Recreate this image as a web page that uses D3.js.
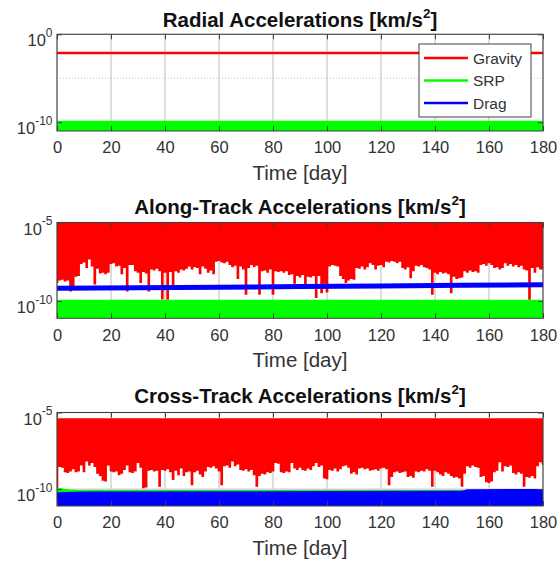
<!DOCTYPE html>
<html><head><meta charset="utf-8">
<script src="https://cdn.jsdelivr.net/npm/d3@7"></script>
<style>
body{margin:0;background:#fff;}
svg{display:block;font-family:"Liberation Sans",Arial,Helvetica,sans-serif;}
</style>
</head><body>
<svg id="chart" width="558" height="563"></svg>
<script>
// ---------------- DATA ----------------
const xTicks = [0, 20, 40, 60, 80, 100, 120, 140, 160, 180];
const seriesNames = ["Gravity", "SRP", "Drag"];
const seriesColors = ["#ff0000", "#00ff00", "#0000ff"];
const titles = ["Radial Accelerations [km/s", "Along-Track Accelerations [km/s", "Cross-Track Accelerations [km/s"];
const xLabel = "Time [day]";
const yTickExps = [[0, -10], [-5, -10], [-5, -10]];
const yDomainExps = [[-11, 0], [-11.1, -5], [-11.1, -5]];
const minorGridExps = [[-5], [], []];

const days = d3.range(0, 181);

// Radial (log10 of km/s^2)
const radialGravityLog = -2.13;
const radialSrpMaxLog = -9.82;
const radialSrpMinLog = -12;

// Along-track (log10 of km/s^2), daily lower envelope of the gravity oscillation
const alongGravityMaxLog = -5.0;
const alongGravityMinLog = [
-8.85,-8.7,-8.65,-8.75,-8.7,-9.39,-9.3,-8.45,-8.4,-7.65,
-7.55,-7.9,-7.35,-7.8,-8.95,-7.95,-8.25,-8.2,-8.3,-8.2,
-7.65,-7.6,-7.8,-7.75,-8.3,-7.9,-9.4,-7.7,-7.7,-8.1,
-8.2,-8.85,-8.15,-8.25,-9.4,-8.0,-8.05,-7.95,-8.1,-9.9,
-8.2,-9.92,-8.15,-9.1,-8.1,-8.2,-8.0,-8.05,-7.95,-7.8,
-8.0,-7.85,-7.9,-8.3,-7.8,-7.95,-8.2,-8.05,-8.3,-7.5,
-7.45,-7.55,-7.6,-7.5,-7.7,-7.85,-7.75,-8.6,-7.8,-8.0,
-9.6,-7.9,-7.7,-7.85,-7.75,-9.6,-8.1,-8.05,-8.2,-8.0,
-9.6,-8.1,-8.15,-8.1,-8.2,-8.1,-8.35,-8.3,-8.9,-8.4,
-8.5,-8.35,-8.95,-8.45,-8.5,-8.4,-9.8,-8.4,-9.5,-8.9,
-9.45,-7.8,-7.7,-7.75,-7.8,-8.4,-8.6,-8.86,-8.7,-8.6,
-8.65,-7.9,-7.95,-7.8,-8.0,-7.85,-7.6,-7.7,-8.0,-7.75,
-7.7,-7.85,-7.5,-7.55,-7.45,-7.5,-7.6,-7.5,-7.9,-8.0,
-7.85,-8.55,-8.1,-7.75,-7.8,-7.7,-7.85,-7.9,-8.0,-9.6,
-8.2,-8.3,-8.15,-8.25,-8.2,-8.3,-9.5,-8.45,-8.6,-8.55,
-8.5,-8.1,-8.2,-8.05,-8.15,-8.1,-8.2,-7.7,-7.65,-7.75,
-7.6,-7.7,-7.9,-7.85,-8.0,-7.9,-7.6,-7.75,-7.65,-7.8,
-7.7,-7.85,-7.75,-8.0,-8.05,-9.92,-7.9,-8.2,-7.85,-8.0,
-8.0];
const alongSrpMaxLog = -9.92;
const alongSrpMinLog = -12;
const alongDragDays = [0, 30, 60, 90, 120, 150, 180];
const alongDragLog = [-9.18, -9.15, -9.12, -9.08, -9.04, -9.0, -8.97];

// Cross-track (log10 of km/s^2)
const crossGravityMaxLog = -5.38;
const crossGravityMinLog = [
-10.05,-8.55,-8.6,-8.9,-8.95,-8.85,-8.7,-8.9,-8.85,-8.45,
-8.9,-8.2,-8.45,-8.3,-8.55,-9.0,-9.15,-9.45,-9.5,-8.45,
-8.85,-8.9,-8.85,-9.1,-9.0,-8.75,-8.45,-8.9,-8.95,-8.85,
-8.3,-8.6,-9.95,-9.9,-8.8,-8.75,-8.85,-8.8,-9.85,-8.75,
-8.8,-8.7,-8.9,-9.4,-8.8,-9.1,-8.65,-9.15,-8.9,-8.85,
-9.75,-8.9,-8.8,-9.05,-9.2,-8.85,-8.55,-8.6,-8.5,-8.65,
-8.85,-9.75,-8.5,-8.45,-8.6,-8.2,-8.5,-8.4,-8.75,-8.8,
-8.7,-8.85,-8.75,-9.1,-9.85,-9.15,-9.0,-9.05,-8.9,-8.95,
-8.85,-8.3,-8.35,-8.9,-8.95,-8.85,-8.9,-8.3,-8.65,-8.75,
-8.6,-8.75,-8.8,-8.65,-8.75,-8.5,-8.3,-8.55,-8.45,-9.3,
-9.35,-8.75,-8.8,-8.65,-8.85,-8.7,-8.5,-8.45,-8.6,-9.0,
-8.9,-9.05,-8.65,-8.6,-8.7,-8.65,-8.8,-8.75,-8.7,-8.8,
-8.65,-8.6,-8.7,-9.75,-9.2,-8.9,-8.85,-8.95,-8.9,-8.85,
-9.2,-9.15,-9.25,-8.85,-8.9,-8.8,-8.85,-8.7,-8.8,-9.85,
-8.8,-8.9,-9.05,-9.15,-8.9,-9.0,-9.15,-9.25,-9.2,-9.3,
-9.85,-9.0,-8.5,-8.6,-8.45,-8.55,-8.6,-9.2,-9.15,-9.55,
-9.6,-9.5,-8.9,-8.8,-8.25,-8.85,-8.5,-8.55,-8.45,-8.95,
-9.05,-8.9,-9.0,-9.85,-9.2,-9.25,-9.15,-9.3,-8.5,-8.25,
-8.4];
const crossSrpDays = [0, 4, 8, 180];
const crossSrpMaxLog = [-9.9, -10.0, -10.05, -10.05];
const crossSrpMinLog = -12;
const crossDragDays = [0, 10, 50, 100, 150, 152, 180];
const crossDragMaxLog = [-10.2, -10.15, -10.14, -10.12, -10.1, -10.0, -9.99];
const crossDragMinLog = -12;

// ---------------- LAYOUT ----------------
const X0 = 57, X1 = 543;
const panels = [
  {top: 34.3, bottom: 131, titleY: 26.7},
  {top: 222.5, bottom: 318.3, titleY: 213.5},
  {top: 412.5, bottom: 506, titleY: 402.5}
];
const P = v => Math.pow(10, v);
const svg = d3.select("#chart");
const x = d3.scaleLinear().domain([0, 180]).range([X0, X1]);
const TICK_FS = 16.5, LABEL_FS = 20.5, TITLE_FS = 20.5;

panels.forEach((p, i) => {
  const y = d3.scaleLog().domain([P(yDomainExps[i][0]), P(yDomainExps[i][1])]).range([p.bottom, p.top]);
  const g = svg.append("g");
  const clipId = "clip" + i;
  g.append("clipPath").attr("id", clipId).append("rect")
    .attr("x", X0).attr("y", p.top).attr("width", X1 - X0).attr("height", p.bottom - p.top);

  // grid
  const grid = g.append("g");
  grid.selectAll("line.vx").data(xTicks).join("line")
    .attr("x1", d => x(d)).attr("x2", d => x(d)).attr("y1", p.top).attr("y2", p.bottom)
    .attr("stroke", "#d2d2d2").attr("stroke-width", 1.5);
  grid.selectAll("line.hy").data(yTickExps[i]).join("line")
    .attr("x1", X0).attr("x2", X1).attr("y1", d => y(P(d))).attr("y2", d => y(P(d)))
    .attr("stroke", "#d2d2d2").attr("stroke-width", 1.5);
  grid.selectAll("line.mn").data(minorGridExps[i]).join("line")
    .attr("x1", X0).attr("x2", X1).attr("y1", d => y(P(d))).attr("y2", d => y(P(d)))
    .attr("stroke", "#c4c4c4").attr("stroke-width", 1).attr("stroke-dasharray", "1,2");

  const data = g.append("g").attr("clip-path", `url(#${clipId})`);
  if (i === 0) {
    data.append("path").datum(days)
      .attr("d", d3.area().x(d => x(d)).y0(y(P(radialSrpMinLog))).y1(y(P(radialSrpMaxLog))))
      .attr("fill", seriesColors[1]);
    data.append("path").datum(days)
      .attr("d", d3.line().x(d => x(d)).y(y(P(radialGravityLog))))
      .attr("fill", "none").attr("stroke", seriesColors[0]).attr("stroke-width", 2.5);
  } else if (i === 1) {
    data.append("path").datum(days)
      .attr("d", d3.area().curve(d3.curveStep).x(d => x(d)).y0(d => y(P(alongGravityMinLog[d]))).y1(y(P(alongGravityMaxLog))))
      .attr("fill", seriesColors[0]);
    data.append("path").datum(days)
      .attr("d", d3.area().x(d => x(d)).y0(y(P(alongSrpMinLog))).y1(y(P(alongSrpMaxLog))))
      .attr("fill", seriesColors[1]);
    data.append("path").datum(d3.range(alongDragDays.length))
      .attr("d", d3.line().x(k => x(alongDragDays[k])).y(k => y(P(alongDragLog[k]))))
      .attr("fill", "none").attr("stroke", seriesColors[2]).attr("stroke-width", 5);
  } else {
    data.append("path").datum(days)
      .attr("d", d3.area().curve(d3.curveStep).x(d => x(d)).y0(d => y(P(crossGravityMinLog[d]))).y1(y(P(crossGravityMaxLog))))
      .attr("fill", seriesColors[0]);
    data.append("path").datum(d3.range(crossSrpDays.length))
      .attr("d", d3.area().x(k => x(crossSrpDays[k])).y0(y(P(crossSrpMinLog))).y1(k => y(P(crossSrpMaxLog[k]))))
      .attr("fill", seriesColors[1]);
    data.append("path").datum(d3.range(crossDragDays.length))
      .attr("d", d3.area().x(k => x(crossDragDays[k])).y0(y(P(crossDragMinLog))).y1(k => y(P(crossDragMaxLog[k]))))
      .attr("fill", seriesColors[2]);
  }

  // axes
  const axColor = "#404040";
  const bottomAx = g.append("g").attr("transform", `translate(0,${p.bottom})`)
    .call(d3.axisBottom(x).tickValues(xTicks).tickSizeInner(-5).tickSizeOuter(0).tickPadding(10.5).tickFormat(d3.format("d")));
  const topAx = g.append("g").attr("transform", `translate(0,${p.top})`)
    .call(d3.axisTop(x).tickValues(xTicks).tickSizeInner(-5).tickSizeOuter(0).tickFormat(""));
  const yTickVals = yTickExps[i].map(P);
  const leftAx = g.append("g").attr("transform", `translate(${X0},0)`)
    .call(d3.axisLeft(y).tickValues(yTickVals).tickSizeInner(-5).tickSizeOuter(0).tickPadding(5));
  const rightAx = g.append("g").attr("transform", `translate(${X1},0)`)
    .call(d3.axisRight(y).tickValues(yTickVals).tickSizeInner(-5).tickSizeOuter(0).tickFormat(""));
  [bottomAx, topAx, leftAx, rightAx].forEach(a => {
    a.select(".domain").remove();
    a.selectAll(".tick line").attr("stroke", axColor).attr("stroke-width", 1);
    a.selectAll("text").attr("fill", "#333").attr("font-size", TICK_FS).attr("font-family", null);
  });
  leftAx.selectAll(".tick text").each(function(v) {
    const t = d3.select(this);
    const e = Math.round(Math.log10(v));
    t.text(null).attr("dy", null).attr("y", 11.5).attr("x", -4.5);
    t.append("tspan").text("10");
    t.append("tspan").attr("font-size", 12).attr("dy", -9.5).text(String(e));
  });

  // box
  g.append("rect").attr("x", X0).attr("y", p.top).attr("width", X1 - X0).attr("height", p.bottom - p.top)
    .attr("fill", "none").attr("stroke", axColor).attr("stroke-width", 1);

  // title
  const tt = g.append("text").attr("x", (X0 + X1) / 2).attr("y", p.titleY).attr("text-anchor", "middle")
    .attr("font-size", TITLE_FS).attr("font-weight", "bold").attr("fill", "#111");
  tt.append("tspan").text(titles[i]);
  tt.append("tspan").attr("font-size", 13.5).attr("dy", -9).text("2");
  tt.append("tspan").attr("dy", 9).text("]");

  // x label
  g.append("text").attr("x", (X0 + X1) / 2).attr("y", p.bottom + 49).attr("text-anchor", "middle")
    .attr("font-size", LABEL_FS).attr("fill", "#333").text(xLabel);
});

// legend (first panel)
const lg = svg.append("g");
lg.append("rect").attr("x", 419).attr("y", 44).attr("width", 112).attr("height", 73)
  .attr("fill", "#fff").attr("stroke", "#404040").attr("stroke-width", 1);
const legendY = d3.scalePoint().domain(seriesNames).range([58, 103]);
seriesNames.forEach((n, k) => {
  lg.append("line").attr("x1", 424).attr("x2", 468).attr("y1", legendY(n)).attr("y2", legendY(n))
    .attr("stroke", seriesColors[k]).attr("stroke-width", 2.5);
  lg.append("text").attr("x", 473).attr("y", legendY(n)).attr("dy", "0.36em")
    .attr("font-size", 15.5).attr("fill", "#333").text(n);
});
</script>
</body></html>
